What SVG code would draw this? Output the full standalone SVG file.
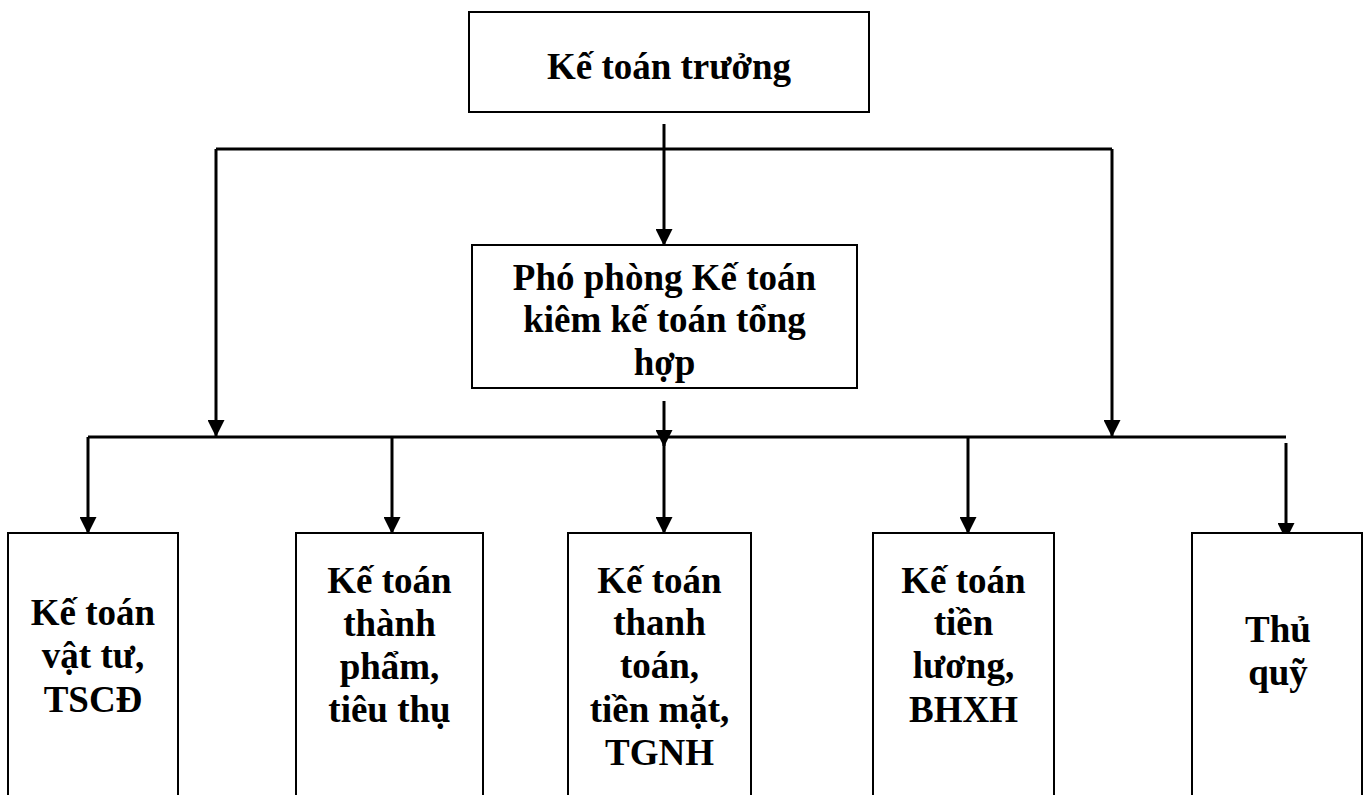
<svg xmlns="http://www.w3.org/2000/svg" width="1367" height="795" viewBox="0 0 1367 795">
  <style>
    .box { fill: #ffffff; stroke: #000000; stroke-width: 2; }
    .lbl { font-family: 'Liberation Serif', 'DejaVu Serif', serif; font-weight: 700; font-size: 37px; fill: #000000; text-anchor: middle; }
    .wire { fill: none; stroke: #000000; stroke-width: 3; }
  </style>
  <defs>
    <marker id="arrow" markerUnits="userSpaceOnUse" markerWidth="17" markerHeight="17" viewBox="0 0 17 17" refX="16" refY="8.5" orient="auto">
      <path d="M0,0 L17,8.5 L0,17 z" fill="#000000"/>
    </marker>
  </defs>
  <rect width="1367" height="795" fill="#ffffff"/>

  <!-- connectors -->
  <g id="connectors">
    <!-- chief accountant to deputy -->
    <line class="wire" x1="664" y1="124" x2="664" y2="245" marker-end="url(#arrow)"/>
    <!-- upper bus with side drops -->
    <line class="wire" x1="216" y1="149" x2="1112" y2="149"/>
    <line class="wire" x1="216" y1="149" x2="216" y2="436" marker-end="url(#arrow)"/>
    <line class="wire" x1="1112" y1="149" x2="1112" y2="436" marker-end="url(#arrow)"/>
    <!-- deputy down to lower bus -->
    <line class="wire" x1="664" y1="401" x2="664" y2="446" marker-end="url(#arrow)"/>
    <!-- lower bus -->
    <line class="wire" x1="88" y1="437" x2="1286" y2="437"/>
    <!-- drops to the staff boxes -->
    <line class="wire" x1="88" y1="437" x2="88" y2="533" marker-end="url(#arrow)"/>
    <line class="wire" x1="392" y1="437" x2="392" y2="533" marker-end="url(#arrow)"/>
    <line class="wire" x1="664" y1="437" x2="664" y2="533" marker-end="url(#arrow)"/>
    <line class="wire" x1="968" y1="437" x2="968" y2="533" marker-end="url(#arrow)"/>
    <line class="wire" x1="1286" y1="443" x2="1286" y2="539" marker-end="url(#arrow)"/>
  </g>

  <g id="ke-toan-truong">
    <rect class="box" x="469" y="12" width="400" height="100"/>
    <text class="lbl" x="669" y="79">Kế toán trưởng</text>
  </g>

  <g id="pho-phong">
    <rect class="box" x="472" y="245" width="385" height="143"/>
    <text class="lbl" x="664.5" y="290">Phó phòng Kế toán</text>
    <text class="lbl" x="664.5" y="332">kiêm kế toán tổng</text>
    <text class="lbl" x="664.5" y="375">hợp</text>
  </g>

  <g id="vat-tu">
    <rect class="box" x="8" y="533" width="170" height="280"/>
    <text class="lbl" x="93" y="625">Kế toán</text>
    <text class="lbl" x="93" y="668">vật tư,</text>
    <text class="lbl" x="93" y="712">TSCĐ</text>
  </g>

  <g id="thanh-pham">
    <rect class="box" x="296" y="533" width="187" height="280"/>
    <text class="lbl" x="389.5" y="593">Kế toán</text>
    <text class="lbl" x="389.5" y="636">thành</text>
    <text class="lbl" x="389.5" y="679">phẩm,</text>
    <text class="lbl" x="389.5" y="722">tiêu thụ</text>
  </g>

  <g id="thanh-toan">
    <rect class="box" x="568" y="533" width="183" height="280"/>
    <text class="lbl" x="659.5" y="593">Kế toán</text>
    <text class="lbl" x="659.5" y="635">thanh</text>
    <text class="lbl" x="659.5" y="678">toán,</text>
    <text class="lbl" x="659.5" y="722">tiền mặt,</text>
    <text class="lbl" x="659.5" y="765">TGNH</text>
  </g>

  <g id="tien-luong">
    <rect class="box" x="873" y="533" width="181" height="280"/>
    <text class="lbl" x="963.5" y="593">Kế toán</text>
    <text class="lbl" x="963.5" y="635">tiền</text>
    <text class="lbl" x="963.5" y="678">lương,</text>
    <text class="lbl" x="963.5" y="722">BHXH</text>
  </g>

  <g id="thu-quy">
    <rect class="box" x="1192" y="533" width="170" height="280"/>
    <text class="lbl" x="1278" y="642">Thủ</text>
    <text class="lbl" x="1278" y="685">quỹ</text>
  </g>
</svg>
